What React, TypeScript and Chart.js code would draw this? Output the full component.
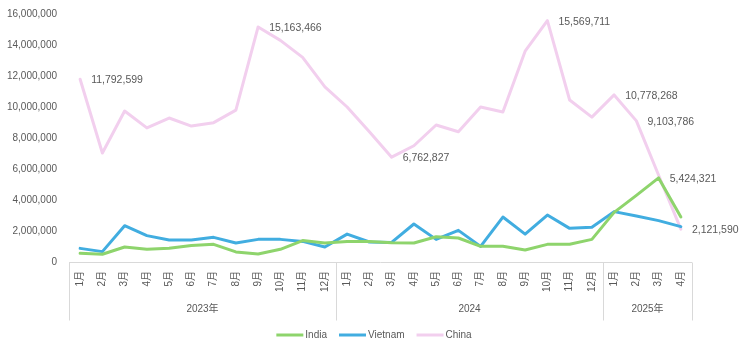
import React, { useEffect, useRef } from 'react';
import { Chart, registerables } from 'chart.js';

Chart.register(...registerables);

const months = [
  '1月', '2月', '3月', '4月', '5月', '6月', '7月', '8月', '9月', '10月', '11月', '12月',
  '1月', '2月', '3月', '4月', '5月', '6月', '7月', '8月', '9月', '10月', '11月', '12月',
  '1月', '2月', '3月', '4月',
];
const yearLabels = ['2023年', '2024', '2025年'];
const yearCounts = [12, 12, 4];

const india = [
  560000, 500000, 970000, 820000, 880000, 1070000, 1140000, 650000, 520000, 820000, 1380000, 1230000,
  1330000, 1330000, 1240000, 1230000, 1630000, 1550000, 1010000, 1010000, 770000, 1140000, 1140000, 1460000,
  3200000, 4300000, 5424321, 2900000,
];
const vietnam = [
  880000, 670000, 2340000, 1700000, 1420000, 1420000, 1590000, 1230000, 1460000, 1460000, 1330000, 970000,
  1800000, 1290000, 1260000, 2450000, 1460000, 2040000, 1010000, 2900000, 1800000, 3030000, 2170000, 2240000,
  3250000, 2970000, 2670000, 2280000,
];
const china = [
  11792599, 7030000, 9740000, 8650000, 9290000, 8770000, 8990000, 9800000, 15163466, 14300000, 13200000, 11300000,
  10000000, 8400000, 6762827, 7500000, 8840000, 8400000, 10000000, 9680000, 13600000, 15569711, 10450000, 9350000,
  10778268, 9103786, 5600000, 2121590,
];
const seriesNames = ['India', 'Vietnam', 'China'];
const seriesColors = ['#8ED46C', '#41ADE0', '#F2CFEE'];
// [dataset index, point index] of the values that carry a data label
const labelledPoints: [number, number][] = [
  [2, 0], [2, 8], [2, 14], [2, 21], [2, 24], [2, 25], [0, 26], [2, 27],
];
const yMax = 16000000;
const yStep = 2000000;

const FONT = "'Liberation Sans', 'Noto Sans CJK SC', sans-serif";
const TEXT = '#595959';

const overlay = {
  id: 'overlay',
  afterDraw(chart: any) {
    const ctx = chart.ctx;
    const xs = chart.scales.x;
    const area = chart.chartArea;
    ctx.save();
    // axis line
    ctx.strokeStyle = '#d9d9d9';
    ctx.lineWidth = 1;
    const yAxis = Math.round(area.bottom) + 0.5;
    ctx.beginPath();
    ctx.moveTo(xs.left, yAxis);
    ctx.lineTo(xs.right, yAxis);
    ctx.stroke();
    // group separators + year labels
    const boundary = (b: number) => {
      if (b <= 0) return xs.left;
      if (b >= months.length) return xs.right;
      return (xs.getPixelForValue(b - 1) + xs.getPixelForValue(b)) / 2;
    };
    let start = 0;
    ctx.font = `10px ${FONT}`;
    ctx.fillStyle = TEXT;
    ctx.textAlign = 'center';
    ctx.textBaseline = 'middle';
    const bounds = [0];
    yearCounts.forEach((c) => { start += c; bounds.push(start); });
    bounds.forEach((b) => {
      const x = Math.round(boundary(b)) + 0.5;
      ctx.beginPath();
      ctx.moveTo(x, yAxis);
      ctx.lineTo(x, yAxis + 58);
      ctx.stroke();
    });
    for (let i = 0; i < yearLabels.length; i++) {
      const cx = (boundary(bounds[i]) + boundary(bounds[i + 1])) / 2;
      ctx.fillText(yearLabels[i], cx, yAxis + 47);
    }
    // data labels
    ctx.font = `10.5px ${FONT}`;
    ctx.textAlign = 'left';
    labelledPoints.forEach(([d, i]) => {
      const el = chart.getDatasetMeta(d).data[i];
      const v = chart.data.datasets[d].data[i] as number;
      ctx.fillText(v.toLocaleString('en-US'), el.x + 11, el.y + 1);
    });
    // legend
    ctx.font = `10px ${FONT}`;
    const sample = 27;
    const gapText = 2;
    const gapItem = 12;
    const widths = seriesNames.map((n) => sample + gapText + ctx.measureText(n).width);
    const total = widths.reduce((a, b) => a + b, 0) + gapItem * (widths.length - 1);
    let lx = 374 - total / 2;
    const ly = 335;
    seriesNames.forEach((n, k) => {
      ctx.strokeStyle = seriesColors[k];
      ctx.lineWidth = 3;
      ctx.beginPath();
      ctx.moveTo(lx, ly);
      ctx.lineTo(lx + sample, ly);
      ctx.stroke();
      ctx.fillStyle = TEXT;
      ctx.fillText(n, lx + sample + gapText, ly);
      lx += widths[k] + gapItem;
    });
    ctx.restore();
  },
};

export default function App() {
  const ref = useRef<HTMLCanvasElement | null>(null);
  useEffect(() => {
    document.body.style.margin = '0';
    const canvas = ref.current;
    if (!canvas) return;
    const series = [india, vietnam, china];
    const chart = new Chart(canvas, {
      type: 'line',
      data: {
        labels: months,
        datasets: series.map((s, k) => ({
          label: seriesNames[k],
          data: s,
          borderColor: seriesColors[k],
          backgroundColor: seriesColors[k],
          borderWidth: 3,
          pointRadius: 0,
          tension: 0,
          borderJoinStyle: 'round' as const,
          borderCapStyle: 'round' as const,
        })),
      },
      options: {
        responsive: false,
        animation: false,
        layout: { padding: { top: 14, right: 51, left: 0, bottom: 0 } },
        plugins: { legend: { display: false }, tooltip: { enabled: false } },
        scales: {
          x: {
            type: 'category',
            offset: true,
            grid: { display: false, drawTicks: false },
            border: { display: false },
            ticks: {
              autoSkip: false,
              minRotation: 90,
              maxRotation: 90,
              padding: 9,
              color: TEXT,
              font: { family: FONT, size: 10 },
            },
            afterFit(scale: any) { scale.height = 83; },
          },
          y: {
            min: 0,
            max: yMax,
            grid: { display: false, drawTicks: false },
            border: { display: false },
            ticks: {
              stepSize: yStep,
              padding: 12,
              color: TEXT,
              font: { family: FONT, size: 10 },
              callback: (v: any) => Number(v).toLocaleString('en-US'),
            },
            afterFit(scale: any) {
              scale.width = 69;
              scale.paddingTop = 0;
              scale.paddingBottom = 0;
            },
          },
        },
      },
      plugins: [overlay],
    });
    return () => chart.destroy();
  }, []);
  return (
    <div style={{ width: 743, height: 345 }}>
      <canvas ref={ref} width={743} height={345} style={{ width: 743, height: 345, display: 'block' }} />
    </div>
  );
}
